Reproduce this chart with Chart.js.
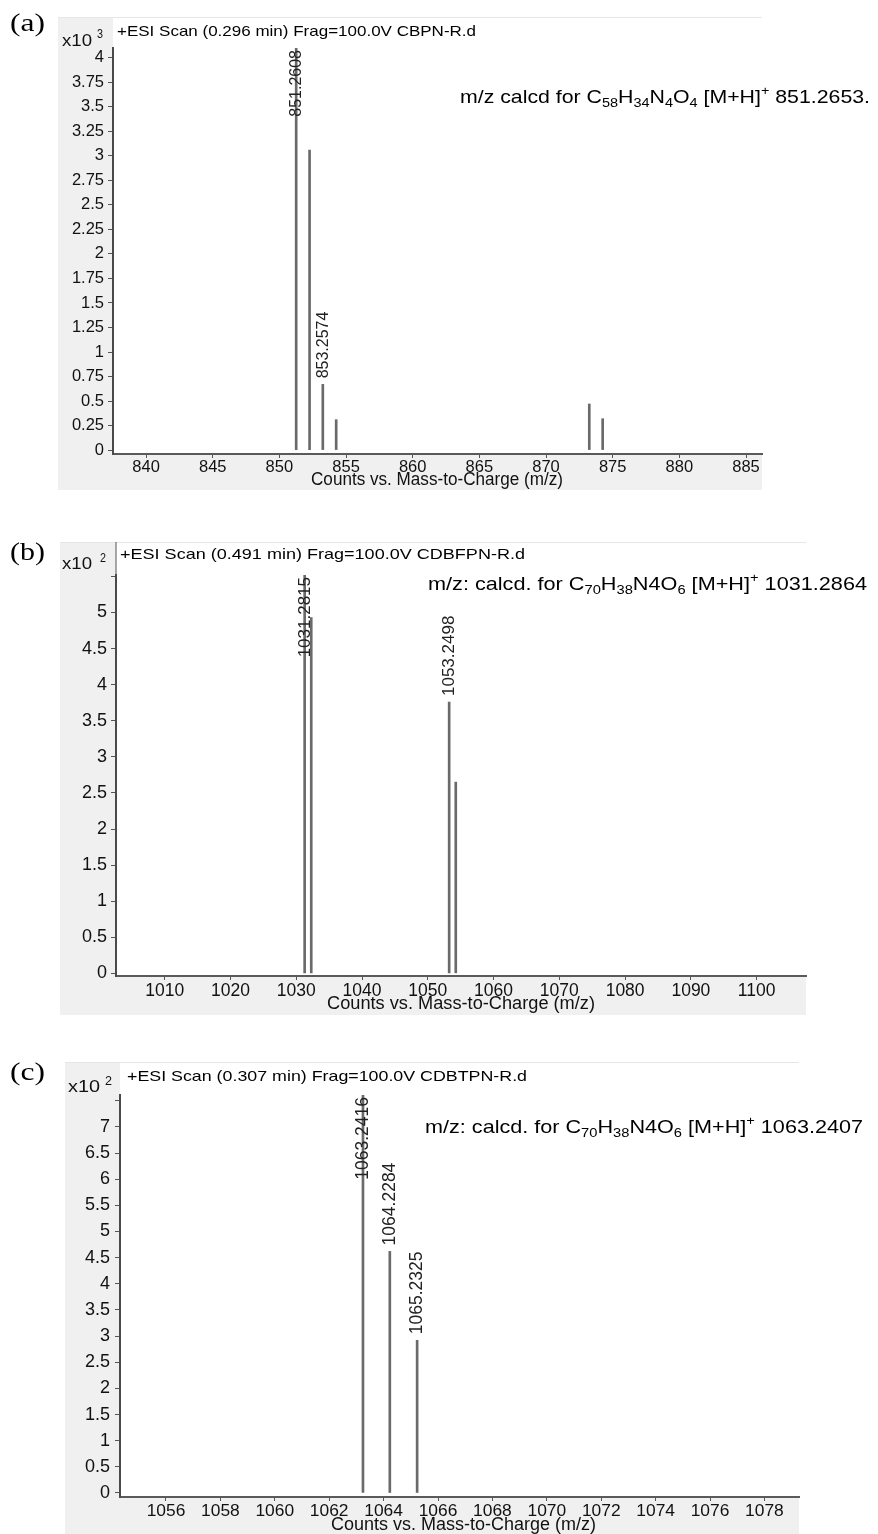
<!DOCTYPE html>
<html><head><meta charset="utf-8">
<script src="https://cdn.jsdelivr.net/npm/chart.js@4.4.1/dist/chart.umd.min.js"></script>
<style>
html,body{margin:0;padding:0;background:#fff;}
#wrap{position:relative;width:878px;height:1534px;overflow:hidden;background:#fff;}
canvas{position:absolute;left:0;}
</style></head><body>
<div id="wrap">
<canvas id="ca" width="878" height="500" style="top:0px"></canvas>
<canvas id="cb" width="878" height="520" style="top:500px"></canvas>
<canvas id="cc" width="878" height="514" style="top:1020px"></canvas>
</div>
<script>
// ---------- Panel (a) data (intensity x10^3) ----------
const mzA = [851.2608, 852.2640, 853.2574, 854.2600, 873.2450, 874.2480];
const intA = [4.10, 3.06, 0.67, 0.31, 0.47, 0.32];
const peakLabelsA = ['851.2608', '', '853.2574', '', '', ''];
const xTicksA = [840, 845, 850, 855, 860, 865, 870, 875, 880, 885];
const yTicksA = [0, 0.25, 0.5, 0.75, 1, 1.25, 1.5, 1.75, 2, 2.25, 2.5, 2.75, 3, 3.25, 3.5, 3.75, 4];
const yLabelsA = ['0', '0.25', '0.5', '0.75', '1', '1.25', '1.5', '1.75', '2', '2.25', '2.5', '2.75', '3', '3.25', '3.5', '3.75', '4'];
const titleA = '+ESI Scan (0.296 min) Frag=100.0V CBPN-R.d';
const noteA = [['m/z calcd for C',0],['58',-1],['H',0],['34',-1],['N',0],['4',-1],['O',0],['4',-1],[' [M+H]',0],['+',1],[' 851.2653.',0]];

// ---------- Panel (b) data (intensity x10^2) ----------
const mzB = [1031.2815, 1032.2850, 1053.2498, 1054.2530];
const intB = [5.52, 4.93, 3.76, 2.65];
const peakLabelsB = ['1031.2815', '', '1053.2498', ''];
const xTicksB = [1010, 1020, 1030, 1040, 1050, 1060, 1070, 1080, 1090, 1100];
const yTicksB = [0, 0.5, 1, 1.5, 2, 2.5, 3, 3.5, 4, 4.5, 5, 5.5];
const yLabelsB = ['0', '0.5', '1', '1.5', '2', '2.5', '3', '3.5', '4', '4.5', '5', ''];
const titleB = '+ESI Scan (0.491 min) Frag=100.0V CDBFPN-R.d';
const noteB = [['m/z: calcd. for C',0],['70',-1],['H',0],['38',-1],['N4O',0],['6',-1],[' [M+H]',0],['+',1],[' 1031.2864',0]];

// ---------- Panel (c) data (intensity x10^2) ----------
const mzC = [1063.2416, 1064.2284, 1065.2325];
const intC = [7.61, 4.62, 2.92];
const peakLabelsC = ['1063.2416', '1064.2284', '1065.2325'];
const xTicksC = [1056, 1058, 1060, 1062, 1064, 1066, 1068, 1070, 1072, 1074, 1076, 1078];
const yTicksC = [0, 0.5, 1, 1.5, 2, 2.5, 3, 3.5, 4, 4.5, 5, 5.5, 6, 6.5, 7, 7.5];
const yLabelsC = ['0', '0.5', '1', '1.5', '2', '2.5', '3', '3.5', '4', '4.5', '5', '5.5', '6', '6.5', '7', ''];
const titleC = '+ESI Scan (0.307 min) Frag=100.0V CDBTPN-R.d';
const noteC = [['m/z: calcd. for C',0],['70',-1],['H',0],['38',-1],['N4O',0],['6',-1],[' [M+H]',0],['+',1],[' 1063.2407',0]];

const xTitle = 'Counts vs. Mass-to-Charge (m/z)';

// ---------- helpers ----------
const SANS = '"Liberation Sans", Arial, sans-serif';
const SERIF = '"Liberation Serif", "Times New Roman", serif';

function runFont(kind, size, fam) { return (kind === 0 ? size : size * 0.68) + 'px ' + fam; }
function drawRuns(c, runs, x0, x1, yc, size, fam, color) {
  let w = 0;
  runs.forEach(r => { c.font = runFont(r[1], size, fam); w += c.measureText(r[0]).width; });
  c.save();
  c.translate(x0, yc);
  c.scale((x1 - x0) / w, 1);
  c.textBaseline = 'middle'; c.textAlign = 'left'; c.fillStyle = color || '#000';
  let x = 0;
  runs.forEach(r => {
    c.font = runFont(r[1], size, fam);
    const dy = r[1] < 0 ? size * 0.32 : (r[1] > 0 ? -size * 0.36 : 0);
    c.fillText(r[0], x, dy);
    x += c.measureText(r[0]).width;
  });
  c.restore();
}

function makeChart(P) {
  const W = 878;
  const deco = {
    id: 'deco',
    beforeDraw(chart) {
      const c = chart.ctx, a = chart.chartArea, b = P.box;
      c.save();
      c.fillStyle = '#f0f0f0';
      c.fillRect(b[0], b[1], b[2] - b[0], b[3] - b[1]);
      c.fillStyle = '#ffffff';
      c.fillRect(a.left, b[1], b[2] - a.left, a.bottom - b[1]);
      c.strokeStyle = '#e6e6e6'; c.lineWidth = 1;
      c.beginPath(); c.moveTo(b[0], b[1] + 0.5); c.lineTo(b[2], b[1] + 0.5); c.stroke();
      c.restore();
    },
    afterDatasetsDraw(chart) {
      const c = chart.ctx, xs = chart.scales.x, ys = chart.scales.y, a = chart.chartArea;
      c.save();
      c.font = P.pkFont + 'px ' + SANS; c.fillStyle = '#222';
      c.textBaseline = 'middle'; c.textAlign = 'left';
      P.mz.forEach((m, i) => {
        const lab = P.pk[i];
        if (!lab) return;
        const x = xs.getPixelForValue(m), yt = ys.getPixelForValue(P.inten[i]);
        const len = c.measureText(lab).width;
        let bottom = yt - 6;
        if (bottom - len < a.top + 2) bottom = a.top + 2 + len;
        c.save(); c.translate(x + 0.5, bottom); c.rotate(-Math.PI / 2); c.fillText(lab, 0, 0); c.restore();
      });
      c.restore();
    },
    afterDraw(chart) {
      const c = chart.ctx, a = chart.chartArea, T = P.text;
      if (P.axisExt) {
        c.save(); c.strokeStyle = '#555'; c.lineWidth = 1;
        c.beginPath(); c.moveTo(a.left, P.box[1]); c.lineTo(a.left, a.top); c.stroke(); c.restore();
      }
      drawRuns(c, [[T.letter[0], 0]], T.letter[1], T.letter[2], T.letter[3], 25, SERIF);
      drawRuns(c, [[P.title, 0]], T.title[0], T.title[1], T.title[2], 15, SANS);
      drawRuns(c, P.note, T.note[0], T.note[1], T.note[2], 18.5, SANS);
      drawRuns(c, [[xTitle, 0]], T.xt[0], T.xt[1], T.xt[2], 17.5, SANS, '#111');
      drawRuns(c, [['x10', 0]], T.x10[0], T.x10[1], T.x10[2], 16, SANS, '#111');
      drawRuns(c, [[T.exp[0], 0]], T.exp[1], T.exp[2], T.exp[3], 12, SANS, '#111');
    }
  };
  return new Chart(document.getElementById(P.id), {
    type: 'bar',
    data: { datasets: [{
      data: P.mz.map((m, i) => ({ x: m, y: P.inten[i] })),
      backgroundColor: '#6a6a6a', borderWidth: 0, barThickness: 2
    }] },
    options: {
      responsive: false, animation: false, devicePixelRatio: 1,
      layout: { padding: { left: 0, top: P.plot.t, right: W - P.plot.r, bottom: 0 } },
      plugins: { legend: { display: false }, tooltip: { enabled: false } },
      scales: {
        x: {
          type: 'linear', min: P.xr[0], max: P.xr[1], offset: false,
          afterBuildTicks: s => { s.ticks = P.xTicks.map(v => ({ value: v })); },
          afterFit: s => { s.height = P.H - P.plot.b; },
          grid: { display: true, offset: false, drawOnChartArea: false, drawTicks: true, tickLength: 4, tickColor: '#555', color: '#555' },
          border: { display: true, color: '#5a5a5a', width: 2 },
          ticks: { autoSkip: false, maxRotation: 0, padding: P.xPad, color: '#111', font: { family: SANS, size: P.xFont },
                   callback: v => String(v) }
        },
        y: {
          type: 'linear', min: P.yr[0], max: P.yr[1],
          afterBuildTicks: s => { s.ticks = P.yTicks.map(v => ({ value: v })); },
          afterFit: s => { s.width = P.plot.l; },
          grid: { display: true, drawOnChartArea: false, drawTicks: true, tickLength: 5, tickColor: '#555', color: '#555' },
          border: { display: true, color: '#4a4a4a', width: 2 },
          ticks: { autoSkip: false, padding: P.yPad, color: '#111', font: { family: SANS, size: P.yFont },
                   callback: v => { const k = P.yTicks.indexOf(v); return k >= 0 ? P.yLabels[k] : ''; } }
        }
      }
    },
    plugins: [deco]
  });
}

makeChart({
  id: 'ca', H: 500, box: [58, 17, 762, 490], plot: { l: 113, t: 48, r: 762, b: 454 },
  xr: [837.52, 886.2], yr: [-0.04, 4.1],
  mz: mzA, inten: intA, pk: peakLabelsA, xTicks: xTicksA, yTicks: yTicksA, yLabels: yLabelsA,
  title: titleA, note: noteA, pkFont: 16, xFont: 16.5, yFont: 16.5, xPad: 0, yPad: 4,
  text: { letter: ['(a)', 10, 45, 24], title: [117, 476, 32], note: [460, 870, 98], xt: [311, 563, 480],
          x10: [62, 92, 42], exp: ['3', 97, 103, 35] }
});
makeChart({
  id: 'cb', H: 520, box: [60, 42, 806, 515], plot: { l: 116, t: 75, r: 806, b: 476 },
  xr: [1002.6, 1107.5], yr: [-0.037, 5.52], axisExt: true,
  mz: mzB, inten: intB, pk: peakLabelsB, xTicks: xTicksB, yTicks: yTicksB, yLabels: yLabelsB,
  title: titleB, note: noteB, pkFont: 17, xFont: 17.5, yFont: 18, xPad: 1, yPad: 4,
  text: { letter: ['(b)', 10, 45, 53], title: [120, 525, 55], note: [428, 867, 85], xt: [327, 595, 504],
          x10: [62, 92, 65], exp: ['2', 100, 106, 59] }
});
makeChart({
  id: 'cc', H: 514, box: [65, 42, 799, 514], plot: { l: 120, t: 75, r: 799, b: 477 },
  xr: [1054.31, 1079.27], yr: [-0.0765, 7.61],
  mz: mzC, inten: intC, pk: peakLabelsC, xTicks: xTicksC, yTicks: yTicksC, yLabels: yLabelsC,
  title: titleC, note: noteC, pkFont: 17.5, xFont: 17.4, yFont: 18, xPad: 0, yPad: 5,
  text: { letter: ['(c)', 10, 45, 53], title: [127, 527, 57], note: [425, 863, 108], xt: [331, 596, 505],
          x10: [68, 100, 68], exp: ['2', 105, 112, 62] }
});
</script>
</body></html>
